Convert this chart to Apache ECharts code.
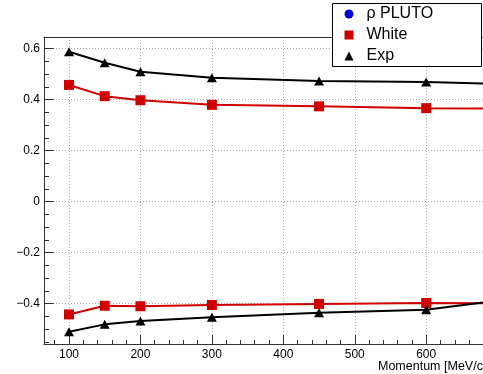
<!DOCTYPE html>
<html><head><meta charset="utf-8">
<script src="https://cdn.jsdelivr.net/npm/echarts@6/dist/echarts.min.js"></script>
<style>html,body{margin:0;padding:0;background:#fff}#c{width:483px;height:374px}</style>
</head><body><div id="c"></div>
<script>
const momentum = [100, 150, 200, 300, 450, 600, 700];
const expUpper = [0.588, 0.545, 0.510, 0.486, 0.473, 0.470, 0.462];
const expLower = [-0.510, -0.481, -0.468, -0.453, -0.435, -0.424, -0.388];
const whiteUpper = [0.458, 0.414, 0.398, 0.380, 0.374, 0.367, 0.365];
const whiteLower = [-0.442, -0.408, -0.410, -0.405, -0.401, -0.397, -0.398];
const plutoData = [];
const xMajor = [100, 200, 300, 400, 500, 600];
const xMinor = [80,100,120,140,160,180,200,220,240,260,280,300,320,340,360,380,400,420,440,460,480,500,520,540,560,580,600,620,640,660];
const yMajor = [-0.4, -0.2, 0, 0.2, 0.4, 0.6];
const yMinor = [-0.55,-0.5,-0.45,-0.4,-0.35,-0.3,-0.25,-0.2,-0.15,-0.1,-0.05,0,0.05,0.1,0.15,0.2,0.25,0.3,0.35,0.4,0.45,0.5,0.55,0.6];
const X_MIN = 65, X_MAX = 679.5, Y_MIN = -0.558, Y_MAX = 0.646;

const pair = (xs, ys) => xs.map((x, i) => [x, ys[i]]);
const fmtY = v => { const r = Math.round(v * 10) / 10; if (r === 0) return '0'; return (r < 0 ? '\u2212' : '') + Math.abs(r).toString(); };
const font = 'Liberation Sans, Arial, sans-serif';
const RED = '#d00000', BLACK = '#000000', BLUE = '#0000dd', FRAME = '#333';

const chart = echarts.init(document.getElementById('c'), null, {renderer: 'canvas'});
chart.setOption({
  animation: false,
  backgroundColor: '#fff',
  grid: {left: 44, top: 37, width: 440, height: 307, show: false, containLabel: false},
  xAxis: [
    {type: 'value', min: X_MIN, max: X_MAX, position: 'bottom',
     axisLine: {show: true, onZero: false, lineStyle: {color: FRAME, width: 1}},
     axisTick: {show: true, inside: true, length: 9, customValues: xMajor, lineStyle: {color: FRAME}},
     axisLabel: {show: true, customValues: xMajor, margin: 5, color: '#000', fontFamily: font, fontSize: 12},
     splitLine: {show: true, lineStyle: {color: '#aaa', type: [1, 2], width: 1}}},
    {type: 'value', min: X_MIN, max: X_MAX, position: 'bottom',
     axisLine: {show: false, onZero: false},
     axisTick: {show: true, inside: true, length: 4, customValues: xMinor, lineStyle: {color: FRAME}},
     axisLabel: {show: false}, splitLine: {show: false}},
    {type: 'value', min: X_MIN, max: X_MAX, position: 'top',
     axisLine: {show: true, onZero: false, lineStyle: {color: FRAME, width: 1}},
     axisTick: {show: false}, axisLabel: {show: false}, splitLine: {show: false}}
  ],
  yAxis: [
    {type: 'value', min: Y_MIN, max: Y_MAX, position: 'left',
     axisLine: {show: true, onZero: false, lineStyle: {color: FRAME, width: 1}},
     axisTick: {show: true, inside: true, length: 10, customValues: yMajor, lineStyle: {color: FRAME}},
     axisLabel: {show: true, customValues: yMajor, margin: 4, color: '#000', fontFamily: font, fontSize: 12, formatter: fmtY},
     splitLine: {show: true, lineStyle: {color: '#aaa', type: [1, 2], width: 1}}},
    {type: 'value', min: Y_MIN, max: Y_MAX, position: 'left',
     axisLine: {show: false, onZero: false},
     axisTick: {show: true, inside: true, length: 5, customValues: yMinor, lineStyle: {color: FRAME}},
     axisLabel: {show: false}, splitLine: {show: false}}
  ],
  legend: {
    orient: 'vertical', left: 344.5, top: 6, padding: 0, itemGap: 5, itemWidth: 9, itemHeight: 9,
    data: [
      {name: 'ρ PLUTO', icon: 'circle'},
      {name: 'White', icon: 'rect'},
      {name: 'Exp', icon: 'triangle'}
    ],
    textStyle: {fontFamily: font, fontSize: 16, color: '#000', padding: [0, 0, 0, 8]},
    z: 10
  },
  graphic: [
    {type: 'rect', shape: {x: 332.5, y: 3.5, width: 149, height: 63}, style: {fill: '#fff', stroke: '#000', lineWidth: 1}, z: 5},
    {type: 'text', left: 378, top: 360, style: {text: 'Momentum [MeV/c]', fontFamily: font, fontSize: 12.5, fill: '#000'}, z: 5}
  ],
  series: [
    {name: 'ρ PLUTO', type: 'line', data: plutoData, symbol: 'circle', symbolSize: 10, itemStyle: {color: BLUE}, lineStyle: {color: BLUE}},
    {name: 'White', type: 'line', data: pair(momentum, whiteUpper), symbol: 'rect', symbolSize: 10, itemStyle: {color: RED}, lineStyle: {color: RED, width: 2}, z: 3},
    {name: 'White', type: 'line', data: pair(momentum, whiteLower), symbol: 'rect', symbolSize: 10, itemStyle: {color: RED}, lineStyle: {color: RED, width: 2}, z: 3},
    {name: 'Exp', type: 'line', data: pair(momentum, expUpper), symbol: 'triangle', symbolSize: [10, 9], itemStyle: {color: BLACK}, lineStyle: {color: BLACK, width: 2}, z: 4},
    {name: 'Exp', type: 'line', data: pair(momentum, expLower), symbol: 'triangle', symbolSize: [10, 9], itemStyle: {color: BLACK}, lineStyle: {color: BLACK, width: 2}, z: 4}
  ]
});
</script></body></html>
